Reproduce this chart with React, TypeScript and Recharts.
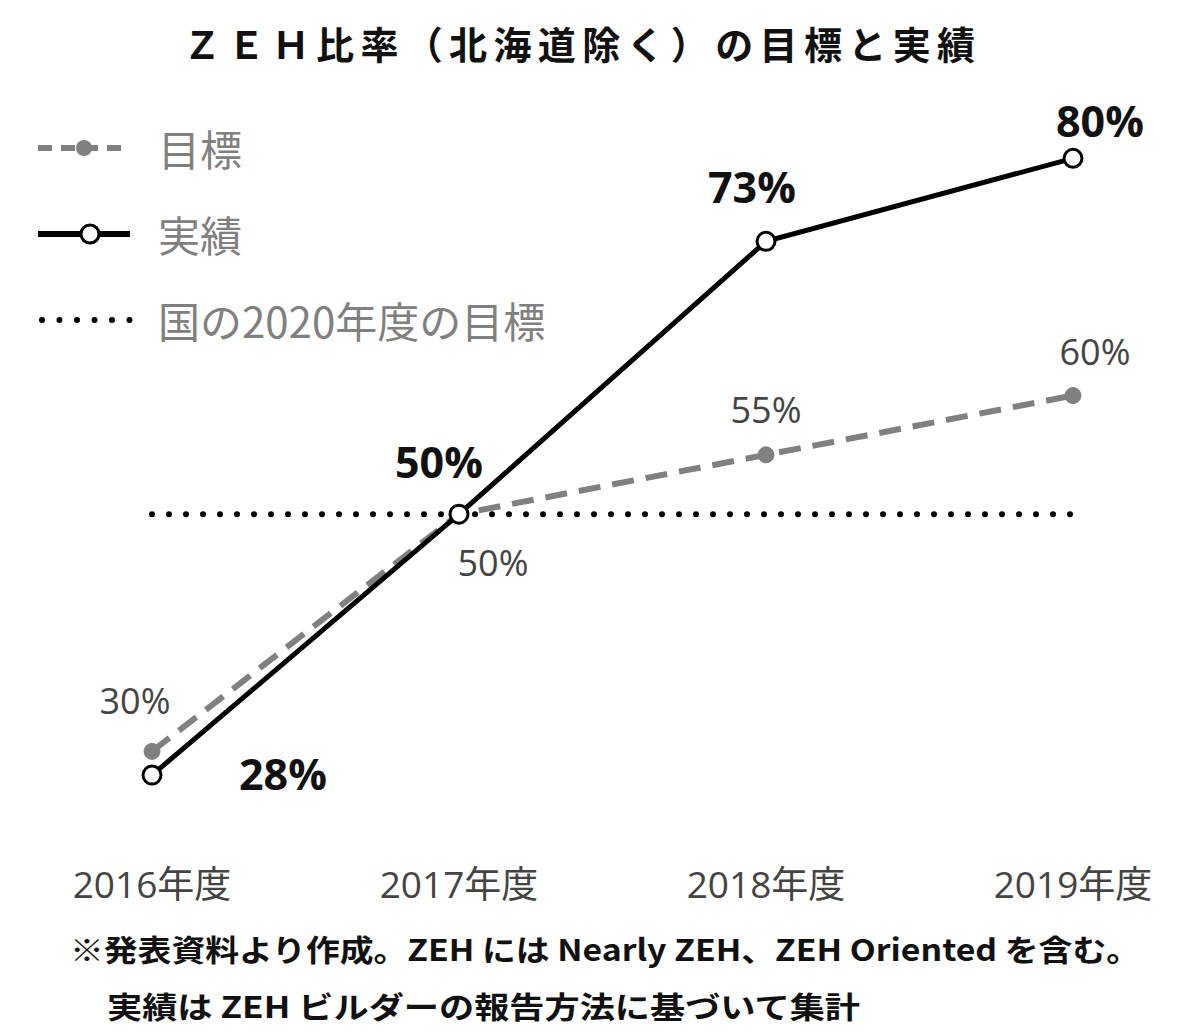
import { LineChart, Line, XAxis, YAxis, LabelList } from "recharts";

const years = ["2016年度", "2017年度", "2018年度", "2019年度"];
const target = [30, 50, 55, 60];
const actual = [28, 50, 73, 80];
const national = [50, 50, 50, 50];

const data = years.map((year, i) => ({
  year,
  target: target[i],
  actual: actual[i],
  national: national[i],
}));

// label offsets from each point (dx, dy)
const targetOffsets = [
  [-17, -51],
  [34, 48],
  [0, -45],
  [22, -44],
];
const actualOffsets = [
  [131, -2],
  [-20, -53],
  [-14, -55],
  [27, -38],
];

const NUM_FONT = "'Open Sans', 'Noto Sans CJK JP', sans-serif";
const JP_FONT = "'Noto Sans CJK JP', sans-serif";

const makeLabel = (offsets: number[][], bold: boolean) => (props: any) => {
  const { x, y, value, index } = props;
  const [dx, dy] = offsets[index] || [0, 0];
  return (
    <text
      x={x + dx}
      y={y + dy}
      textAnchor="middle"
      dominantBaseline="central"
      fontFamily={NUM_FONT}
      fontSize={bold ? 43 : 36}
      fontWeight={bold ? 700 : 400}
      fill={bold ? "#111" : "#444"}
    >
      {value}%
    </text>
  );
};

const YearTick = (props: any) => {
  const { x, y, payload } = props;
  return (
    <text
      x={x}
      y={y + 13}
      textAnchor="middle"
      dominantBaseline="central"
      fontFamily={NUM_FONT}
      fontSize={37}
      fill="#444"
    >
      {payload.value}
    </text>
  );
};

const legendItems = [
  { label: "目標", kind: "target" },
  { label: "実績", kind: "actual" },
  { label: "国の2020年度の目標", kind: "national" },
];

const LegendBox = () => (
  <div style={{ position: "absolute", left: 38, top: 105 }}>
    {legendItems.map((item) => (
      <div
        key={item.kind}
        style={{ display: "flex", alignItems: "center", height: 86 }}
      >
        <svg width={120} height={30}>
          {item.kind === "target" && (
            <g>
              <line x1={0} y1={15} x2={92} y2={15} stroke="#808080" strokeWidth={6} strokeDasharray="14 9" />
              <circle cx={46} cy={15} r={8} fill="#808080" />
            </g>
          )}
          {item.kind === "actual" && (
            <g>
              <line x1={0} y1={15} x2={92} y2={15} stroke="#000" strokeWidth={6} />
              <circle cx={52} cy={15} r={9} fill="#fff" stroke="#000" strokeWidth={3} />
            </g>
          )}
          {item.kind === "national" && (
            <line x1={4} y1={15} x2={92} y2={15} stroke="#000" strokeWidth={6} strokeLinecap="round" strokeDasharray="0 17.5" />
          )}
        </svg>
        <span style={{ fontFamily: JP_FONT, fontSize: 42, color: "#808080", lineHeight: 1 }}>
          {item.label}
        </span>
      </div>
    ))}
  </div>
);

export default function App() {
  return (
    <div style={{ position: "absolute", left: 0, top: 0, width: 1196, height: 1036, background: "#fff" }}>
      <svg width={1196} height={90} style={{ position: "absolute", left: 0, top: 0 }}>
        <text
          x={183}
          y={42}
          dominantBaseline="central"
          fontFamily={JP_FONT}
          fontSize={38}
          fontWeight={700}
          fill="#111"
          textLength={792}
          lengthAdjust="spacing"
        >
          ＺＥＨ比率（北海道除く）の目標と実績
        </text>
      </svg>
      <div style={{ position: "absolute", left: 0, top: 0 }}>
        <LineChart
          width={1196}
          height={930}
          data={data}
          margin={{ top: 99, right: 123, bottom: 0, left: 152 }}
        >
          <XAxis
            dataKey="year"
            axisLine={false}
            tickLine={false}
            tickSize={0}
            tickMargin={0}
            height={60}
            interval={0}
            tick={<YearTick />}
          />
          <YAxis hide domain={[20, 85]} />
          <Line
            dataKey="national"
            name="国の2020年度の目標"
            stroke="#000"
            strokeWidth={6}
            strokeLinecap="round"
            strokeDasharray="0 17"
            dot={false}
            activeDot={false}
            isAnimationActive={false}
          />
          <Line
            dataKey="target"
            name="目標"
            stroke="#808080"
            strokeWidth={6}
            strokeDasharray="22 12"
            dot={{ r: 8, fill: "#808080", stroke: "#808080", strokeWidth: 1, strokeDasharray: "" }}
            activeDot={false}
            isAnimationActive={false}
          >
            <LabelList dataKey="target" content={makeLabel(targetOffsets, false)} />
          </Line>
          <Line
            dataKey="actual"
            name="実績"
            stroke="#000"
            strokeWidth={5}
            dot={{ r: 9, fill: "#fff", stroke: "#000", strokeWidth: 3 }}
            activeDot={false}
            isAnimationActive={false}
          >
            <LabelList dataKey="actual" content={makeLabel(actualOffsets, true)} />
          </Line>
        </LineChart>
      </div>
      <LegendBox />
      <svg width={1196} height={110} style={{ position: "absolute", left: 0, top: 926 }}>
        <text
          x={70}
          y={22}
          dominantBaseline="central"
          fontFamily={JP_FONT}
          fontSize={30}
          fontWeight={700}
          fill="#111"
          textLength={1070}
          lengthAdjust="spacingAndGlyphs"
        >
          ※発表資料より作成。ZEH には Nearly ZEH、ZEH Oriented を含む。
        </text>
        <text
          x={107}
          y={79}
          dominantBaseline="central"
          fontFamily={JP_FONT}
          fontSize={30}
          fontWeight={700}
          fill="#111"
          textLength={753}
          lengthAdjust="spacingAndGlyphs"
        >
          実績は ZEH ビルダーの報告方法に基づいて集計
        </text>
      </svg>
    </div>
  );
}
